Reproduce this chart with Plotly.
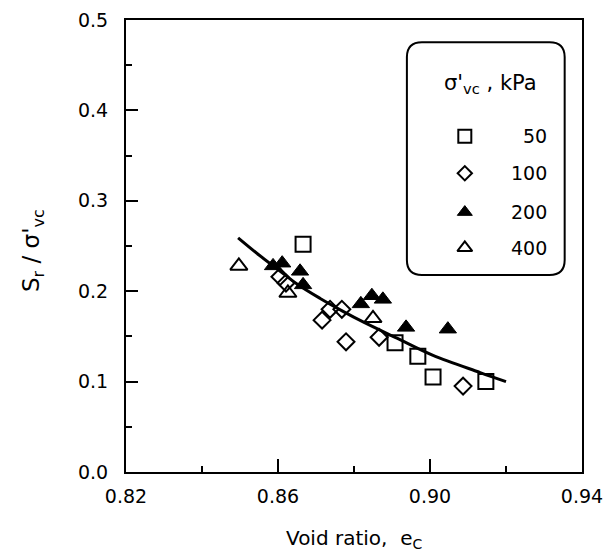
import plotly.graph_objects as go

# ---- data ----
e50 = [0.8666, 0.8908, 0.8968, 0.9008, 0.9147]
s50 = [0.252, 0.143, 0.128, 0.105, 0.100]

e100 = [0.8605, 0.8621, 0.8716, 0.8737, 0.8768, 0.8779, 0.8866, 0.9087]
s100 = [0.216, 0.209, 0.168, 0.180, 0.180, 0.144, 0.149, 0.095]

e200 = [0.8587, 0.8611, 0.8658, 0.8666, 0.8818, 0.8847, 0.8876, 0.8937, 0.9047]
s200 = [0.228, 0.231, 0.222, 0.207, 0.186, 0.195, 0.191, 0.160, 0.158]

e400 = [0.8497, 0.8626, 0.8850]
s400 = [0.228, 0.198, 0.170]

fit_e = [0.8495, 0.8550, 0.8600, 0.8650, 0.8711, 0.8770, 0.8824, 0.8913, 0.9008, 0.9132, 0.9200]
fit_s = [0.259, 0.240, 0.224, 0.208, 0.192, 0.178, 0.166, 0.148, 0.129, 0.110, 0.100]

legend_labels = ["50", "100", "200", "400"]

FONT = "DejaVu Sans, Arial, sans-serif"

fig = go.Figure()

mk = dict(color="black", width=2)
fig.add_trace(go.Scatter(x=e50, y=s50, mode="markers",
                         marker=dict(symbol="square-open", size=15, color="black", line=mk)))
fig.add_trace(go.Scatter(x=e100, y=s100, mode="markers",
                         marker=dict(symbol="diamond-open", size=13, color="black", line=mk)))
fig.add_trace(go.Scatter(x=e200, y=s200, mode="markers",
                         marker=dict(symbol="triangle-up", size=15, color="black", line=dict(color="black", width=1))))
fig.add_trace(go.Scatter(x=e400, y=s400, mode="markers",
                         marker=dict(symbol="triangle-up-open", size=15, color="black", line=mk)))
fig.add_trace(go.Scatter(x=fit_e, y=fit_s, mode="lines", line=dict(color="black", width=3, shape="spline")))

# legend symbols on a hidden overlay axis (paper-like 0..1 coordinates)
leg_x = [0.743] * 4
leg_y = [0.743, 0.661, 0.575, 0.496]
leg_sym = ["square-open", "diamond-open", "triangle-up", "triangle-up-open"]
leg_size = [13, 11, 13, 13]
for xx, yy, sy, sz in zip(leg_x, leg_y, leg_sym, leg_size):
    fig.add_trace(go.Scatter(x=[xx], y=[yy], mode="markers", xaxis="x2", yaxis="y2",
                             marker=dict(symbol=sy, size=sz, color="black",
                                         line=dict(color="black", width=2 if "open" in sy else 1))))

for lab, yy in zip(legend_labels, leg_y):
    fig.add_annotation(x=0.927, y=yy, xref="paper", yref="paper", text=lab, showarrow=False,
                       xanchor="right", yanchor="middle", font=dict(family=FONT, size=19, color="black"))

fig.add_annotation(x=0.800, y=0.858, xref="paper", yref="paper",
                   text="σ'<sub>vc</sub> , kPa", showarrow=False,
                   xanchor="center", yanchor="middle", font=dict(family=FONT, size=21, color="black"))

# rounded legend box
x0, x1, y0, y1 = 0.616, 0.962, 0.436, 0.951
rx, ry = 0.033, 0.033
path = (f"M {x0+rx},{y1} L {x1-rx},{y1} Q {x1},{y1} {x1},{y1-ry} "
        f"L {x1},{y0+ry} Q {x1},{y0} {x1-rx},{y0} "
        f"L {x0+rx},{y0} Q {x0},{y0} {x0},{y0+ry} "
        f"L {x0},{y1-ry} Q {x0},{y1} {x0+rx},{y1} Z")
fig.add_shape(type="path", path=path, xref="paper", yref="paper",
              line=dict(color="black", width=2))

# axis titles
fig.add_annotation(x=0.5, y=-0.148, xref="paper", yref="paper",
                   text="Void ratio,  e<sub>C</sub>", showarrow=False,
                   xanchor="center", yanchor="middle", font=dict(family=FONT, size=20, color="black"))
fig.add_annotation(x=-0.205, y=0.49, xref="paper", yref="paper",
                   text="S<sub>r</sub> / σ'<sub>vc</sub>", showarrow=False, textangle=-90,
                   xanchor="center", yanchor="middle", font=dict(family=FONT, size=23, color="black"))

fig.update_layout(
    width=605, height=554,
    margin=dict(l=126, r=23, t=20, b=82, autoexpand=False),
    paper_bgcolor="white", plot_bgcolor="white",
    showlegend=False,
    font=dict(family=FONT, size=19, color="black"),
    xaxis=dict(range=[0.82, 0.94], tickvals=[0.82, 0.86, 0.90, 0.94],
               ticktext=["0.82", "0.86", "0.90", "0.94"],
               ticks="inside", ticklen=13, tickwidth=2, tickcolor="black",
               minor=dict(tickvals=[0.84, 0.88, 0.92], ticks="inside", ticklen=6, tickwidth=2, tickcolor="black"),
               showline=True, linecolor="black", linewidth=2, mirror=True,
               showgrid=False, zeroline=False, ticklabelstandoff=6, automargin=False,
               tickfont=dict(family=FONT, size=19, color="black")),
    yaxis=dict(range=[0, 0.5], tickvals=[0, 0.1, 0.2, 0.3, 0.4, 0.5],
               ticktext=["0.0", "0.1", "0.2", "0.3", "0.4", "0.5"],
               ticks="inside", ticklen=12, tickwidth=2, tickcolor="black",
               minor=dict(tickvals=[0.05, 0.15, 0.25, 0.35, 0.45], ticks="inside", ticklen=6, tickwidth=2, tickcolor="black"),
               showline=True, linecolor="black", linewidth=2, mirror=True,
               showgrid=False, zeroline=False, ticklabelstandoff=12, automargin=False,
               tickfont=dict(family=FONT, size=19, color="black")),
    xaxis2=dict(range=[0, 1], overlaying="x", visible=False, showgrid=False, zeroline=False),
    yaxis2=dict(range=[0, 1], overlaying="y", visible=False, showgrid=False, zeroline=False),
)

fig.write_html("out.html", config={"displayModeBar": False},
               post_script="document.body.style.margin='0';document.body.style.padding='0';")
